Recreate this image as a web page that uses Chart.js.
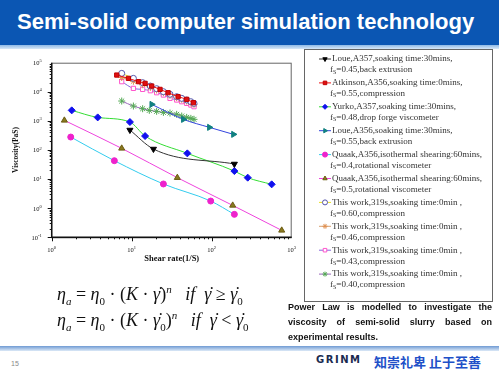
<!DOCTYPE html>
<html>
<head>
<meta charset="utf-8">
<script src="https://cdn.jsdelivr.net/npm/chart.js"></script>
<style>
  body { margin: 0; }
  #page { position: relative; width: 499px; height: 374px; overflow: hidden; background: #fff; font-family: "Liberation Sans", Arial, sans-serif; }
  #head { position: absolute; left: 0; top: 0; width: 499px; height: 45px; background: #0b56b3; z-index: 1; }
  #head .t { position: absolute; left: 17px; top: 11px; line-height: 22px; font-size: 22px; font-weight: bold; color: #fff; white-space: nowrap; }
  #strip { position: absolute; left: 0; top: 45px; width: 499px; height: 4px; background: linear-gradient(#8fb9e6, #d9e8f7); z-index: 1; }
  #chart { position: absolute; left: 0; top: 0; z-index: 2; }
  .eq { position: absolute; left: 57px; font-family: "Liberation Serif", serif; font-size: 18px; white-space: nowrap; color: #111; z-index: 3; }
  .eq i { font-style: italic; }
  .eq sub, .eq sup { font-size: 11px; }
  .gd { position: relative; font-style: italic; }
  .gd::after { content: '\02D9'; position: absolute; left: 0.26em; top: 0.02em; font-style: normal; }
  .note { position: absolute; left: 288px; width: 204px; font-size: 9px; font-weight: bold; color: #111; text-align: justify; text-align-last: justify; white-space: nowrap; z-index: 3; }
  .note.last { text-align-last: left; }
  #foot { position: absolute; left: 0; top: 346px; width: 499px; height: 5px; background: linear-gradient(#6f9ad3, #dce9f7); }
  #grinm { position: absolute; left: 316px; top: 354px; font-family: "DejaVu Sans", sans-serif; font-weight: bold; font-size: 10px; letter-spacing: 1.5px; color: #1b2b50; }
  #motto { position: absolute; left: 374px; top: 352px; font-family: "Noto Sans CJK SC", sans-serif; font-weight: bold; font-size: 13px; color: #2050c8; white-space: nowrap; }
  #pg { position: absolute; left: 11px; top: 360px; font-size: 7px; color: #888; }
</style>
</head>
<body>
<div id="page">
  <div id="head"><div class="t">Semi-solid computer simulation technology</div></div>
  <div id="strip"></div>
  <canvas id="chart" width="499" height="374"></canvas>
  <div class="eq" style="top:283px"><i>η<sub>a</sub></i> = <i>η</i><sub>0</sub> · (<i>K</i> · <span class="gd">γ</span>)<sup><i>n</i></sup> &nbsp;&nbsp;<i>if</i> &nbsp;<span class="gd">γ</span> ≥ <span class="gd">γ</span><sub>0</sub></div>
  <div class="eq" style="top:309px"><i>η<sub>a</sub></i> = <i>η</i><sub>0</sub> · (<i>K</i> · <span class="gd">γ</span><sub>0</sub>)<sup><i>n</i></sup> &nbsp;&nbsp;<i>if</i> &nbsp;<span class="gd">γ</span> &lt; <span class="gd">γ</span><sub>0</sub></div>
  <div class="note" style="top:302px">Power Law is modelled to investigate the</div>
  <div class="note" style="top:317px">viscosity of semi-solid slurry based on</div>
  <div class="note last" style="top:332px">experimental results.</div>
  <div id="foot"></div>
  <div id="grinm">GRINM</div>
  <div id="motto">知崇礼卑 止于至善</div>
  <div id="pg">15</div>
</div>
<script>
// axis ticks
const xTickValues = [1, 10, 100, 1000];
const yTickValues = [0.1, 1, 10, 100, 1000, 10000, 100000];

// legend text
const seriesNames = [
  'Loue,A357,soaking time:30mins,',
  'Atkinson,A356,soaking time:0mins,',
  'Yurko,A357,soaking time:30mins,',
  'Loue,A356,soaking time:30mins,',
  'Quaak,A356,isothermal shearing:60mins,',
  'Quaak,A356,isothermal shearing:60mins,',
  'This work,319s,soaking time:0min ,',
  'This work,319s,soaking time:0min ,',
  'This work,319s,soaking time:0min ,',
  'This work,319s,soaking time:0min ,'
];
const seriesNotes = [
  '=0.45,back extrusion',
  '=0.55,compression',
  '=0.48,drop forge viscometer',
  '=0.55,back extrusion',
  '=0.4,rotational viscometer',
  '=0.5,rotational viscometer',
  '=0.60,compression',
  '=0.46,compression',
  '=0.43,compression',
  '=0.40,compression'
];

// shear rate (1/s) and viscosity (Pa s)
const loueA357X = [9.5, 18.7, 192];
const loueA357Y = [485, 108, 33];
const atkinsonX = [6.5, 9.1, 12.2, 14.7, 17.8, 22.6, 28.5, 38, 48.7, 59];
const atkinsonY = [37700, 29000, 22300, 19500, 15800, 12100, 9300, 6800, 5500, 4230];
const yurkoX = [1.78, 3.76, 9.5, 14.7, 49.6, 192, 282, 562];
const yurkoY = [2300, 1320, 915, 302, 76.6, 18.9, 11.2, 6.6];
const loueA356X = [17.8, 44.2, 93.5, 187];
const loueA356Y = [3700, 1130, 600, 345];
const quaak04X = [1.73, 6.07, 24.9, 97.2, 192];
const quaak04Y = [279, 42.9, 6.8, 1.76, 0.614];
const quaak05X = [1.44, 7.5, 37.2, 183, 750];
const quaak05Y = [1043, 114, 11.2, 1.25, 0.173];
const work060X = [7.5, 10.5, 13.7, 17.1, 20.5, 24.9, 30.1, 36.5, 42.2, 48.7, 54.9, 60.1];
const work060Y = [43000, 29000, 20600, 15800, 12800, 10100, 8200, 6800, 5950, 5220, 4570, 4000];
const work046X = [7.5, 10.5, 13.7, 17.1, 20.5, 24.9, 30.1, 36.5, 42.2, 48.7, 54.9, 60.1];
const work046Y = [31000, 23000, 17500, 14000, 11500, 9300, 7600, 6300, 5500, 4800, 4200, 3700];
const work043X = [7.5, 10.5, 13.7, 17.1, 20.5, 24.9, 30.1, 36.5, 42.2, 48.7, 54.9, 60.1];
const work043Y = [22300, 13100, 12100, 10900, 9300, 7750, 5950, 5220, 4570, 4000, 3510, 3080];
const work040X = [7.5, 10.5, 13.7, 16.6, 20.5, 24.9, 30.1, 36.5, 42.2, 48.7, 54.9, 60.1];
const work040Y = [4820, 3240, 2620, 2300, 2130, 1960, 1860, 1680, 1470, 1320, 1220, 1130];

const pts = (xs, ys) => xs.map((x, i) => ({ x: x, y: ys[i] }));

function series(xs, ys, line, style, fill, edge, r, rot) {
  return {
    data: pts(xs, ys),
    borderColor: line,
    borderWidth: 1,
    pointStyle: style,
    pointBackgroundColor: fill,
    pointBorderColor: edge,
    pointBorderWidth: 1,
    pointRadius: r,
    pointRotation: rot || 0,
    cubicInterpolationMode: 'monotone'
  };
}

const datasets = [
  series(loueA357X, loueA357Y, '#333333', 'triangle', '#000', '#000', 3.5, 180),
  series(atkinsonX, atkinsonY, '#ee1111', 'rect', '#e01010', '#c00000', 3),
  series(yurkoX, yurkoY, '#33dd33', 'rectRot', '#1010ee', '#1010ee', 3.5),
  series(loueA356X, loueA356Y, '#3344dd', 'triangle', '#118080', '#118080', 3.5, 90),
  series(quaak04X, quaak04Y, '#33ccee', 'circle', '#ee22cc', '#ee22cc', 3),
  series(quaak05X, quaak05Y, '#ee44dd', 'triangle', '#8a7a20', '#6a5a10', 3.5),
  series(work060X, work060Y, '#e8e020', 'circle', '#fff', '#5555aa', 3),
  series(work046X, work046Y, '#d8a070', 'star', '#fff', '#e09050', 3.5),
  series(work043X, work043Y, '#8866dd', 'rect', '#fff', '#ff55cc', 3),
  series(work040X, work040Y, '#9966bb', 'star', '#fff', '#55aa55', 3.5)
];

const sup = (v) => String(Math.round(Math.log10(v)));

// frame, ticks and 10^n labels
const axesDeco = {
  id: 'axesDeco',
  afterDraw(chart) {
    const { ctx, chartArea: a, scales: { x, y } } = chart;
    ctx.save();
    ctx.strokeStyle = '#666';
    ctx.lineWidth = 1;
    ctx.strokeRect(a.left, a.top + 0.5, a.right - a.left - 0.5, a.bottom - a.top);
    ctx.strokeStyle = '#111';
    ctx.lineWidth = 1.5;
    ctx.beginPath();
    ctx.moveTo(a.left, a.top);
    ctx.lineTo(a.left, a.bottom);
    ctx.lineTo(a.right, a.bottom);
    ctx.stroke();

    ctx.lineWidth = 1;
    ctx.beginPath();
    for (let e = 0; e < 3; e++) {
      for (let d = 1; d <= 9; d++) {
        const px = Math.round(x.getPixelForValue(d * Math.pow(10, e))) + 0.5;
        ctx.moveTo(px, a.bottom);
        ctx.lineTo(px, a.bottom + (d === 1 ? 4 : 2));
      }
    }
    for (let e = -1; e < 5; e++) {
      for (let d = 1; d <= 9; d++) {
        const py = Math.round(y.getPixelForValue(d * Math.pow(10, e))) + 0.5;
        ctx.moveTo(a.left, py);
        ctx.lineTo(a.left - (d === 1 ? 4 : 2), py);
      }
    }
    ctx.stroke();

    ctx.fillStyle = '#111';
    ctx.textBaseline = 'alphabetic';
    const big = '6.5px "Liberation Serif"', small = '4.5px "Liberation Serif"';
    yTickValues.forEach(v => {
      const py = y.getPixelForValue(v);
      const ex = sup(v);
      ctx.font = small;
      const we = ctx.measureText(ex).width;
      ctx.fillText(ex, a.left - 10 - we, py - 0.5);
      ctx.font = big;
      const wb = ctx.measureText('10').width;
      ctx.fillText('10', a.left - 10 - we - wb, py + 2.3);
    });
    xTickValues.forEach(v => {
      const px = x.getPixelForValue(v);
      const ex = sup(v);
      ctx.font = big;
      const wb = ctx.measureText('10').width;
      ctx.font = small;
      const we = ctx.measureText(ex).width;
      const sx = px - (wb + we) / 2;
      ctx.font = big;
      ctx.fillText('10', sx, 251.5);
      ctx.font = small;
      ctx.fillText(ex, sx + wb, 248.5);
    });
    ctx.restore();
  }
};

const legendBox = {
  id: 'legendBox',
  afterDraw(chart) {
    const ctx = chart.ctx;
    ctx.save();
    ctx.fillStyle = '#fff';
    ctx.fillRect(304, 49, 188, 252);
    ctx.strokeStyle = '#666';
    ctx.lineWidth = 1;
    ctx.strokeRect(304.5, 49.5, 188, 252);
    ctx.textBaseline = 'middle';
    chart.data.datasets.forEach((ds, i) => {
      const y = 59 + i * 23.9;
      ctx.strokeStyle = ds.borderColor;
      ctx.beginPath();
      ctx.moveTo(319, y);
      ctx.lineTo(331, y);
      ctx.stroke();
      ctx.fillStyle = ds.pointBackgroundColor;
      ctx.strokeStyle = ds.pointBorderColor;
      Chart.helpers.drawPoint(ctx, { pointStyle: ds.pointStyle, rotation: ds.pointRotation, radius: 2.5, borderWidth: 1 }, 325, y);
      ctx.fillStyle = '#333';
      ctx.font = '9px "Liberation Serif"';
      ctx.fillText(seriesNames[i], 332, y);
      let x = 330;
      const y2 = y + 11;
      ctx.fillText('f', x, y2);
      x += ctx.measureText('f').width;
      ctx.font = '6px "Liberation Serif"';
      ctx.fillText('S', x, y2 + 2);
      x += ctx.measureText('S').width;
      ctx.font = '9px "Liberation Serif"';
      ctx.fillText(seriesNotes[i], x, y2);
    });
    ctx.restore();
  }
};

new Chart(document.getElementById('chart'), {
  type: 'line',
  data: { datasets: datasets },
  plugins: [axesDeco, legendBox],
  options: {
    responsive: false,
    animation: false,
    devicePixelRatio: 1,
    layout: { padding: { left: 8, top: 62.7, right: 207.3, bottom: 109.7 } },
    plugins: { legend: { display: false }, tooltip: { enabled: false } },
    scales: {
      x: {
        type: 'logarithmic', min: 1, max: 1000,
        ticks: { display: false }, grid: { display: false }, border: { display: false },
        title: { display: true, text: 'Shear rate(1/S)', color: '#111', padding: { top: 0, bottom: 0 },
                 font: { family: 'Liberation Serif', weight: 'bold', size: 8.5 } },
        afterFit: s => { s.height = 27; }
      },
      y: {
        type: 'logarithmic', min: 0.1, max: 100000,
        ticks: { display: false }, grid: { display: false }, border: { display: false },
        title: { display: true, text: 'Viscosity(PaS)', color: '#111', padding: { top: 3.5, bottom: 0 },
                 font: { family: 'Liberation Serif', weight: 'bold', size: 7.5 } },
        afterFit: s => { s.width = 43.7; }
      }
    }
  }
});
</script>
</body>
</html>
